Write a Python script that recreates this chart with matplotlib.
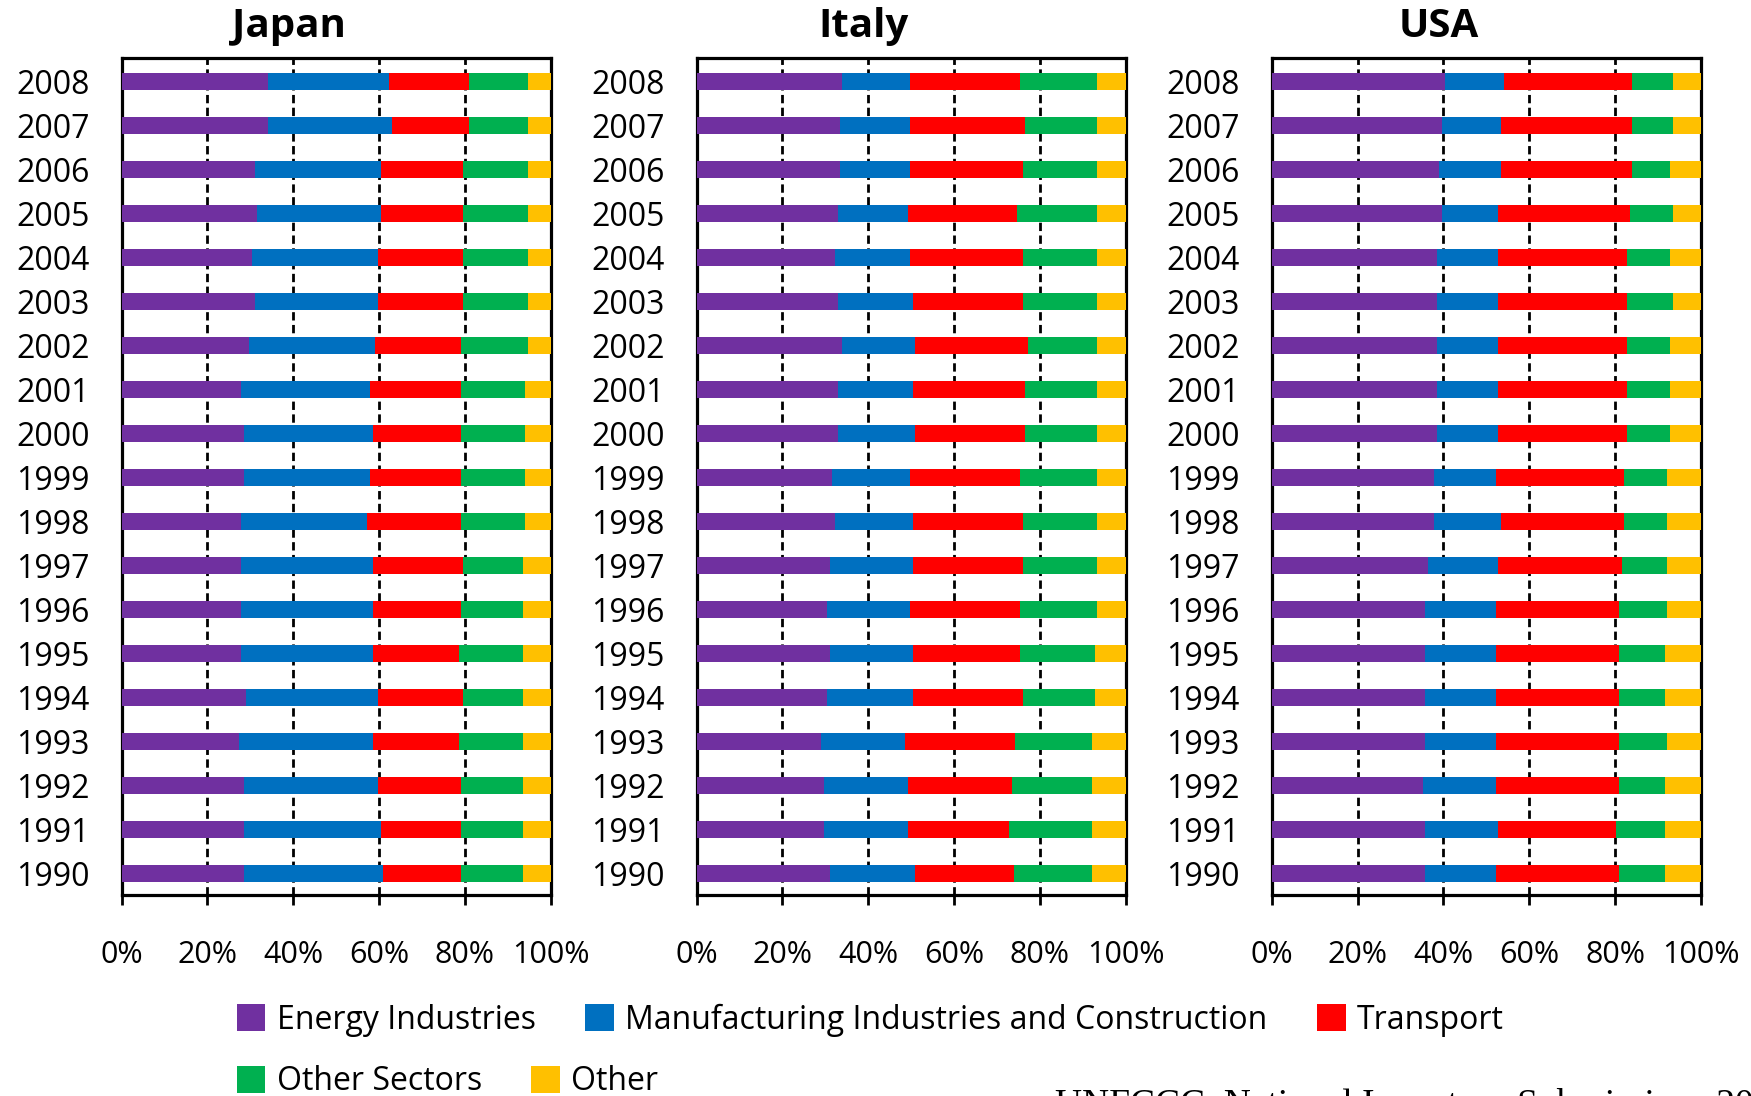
"""
CO2 emissions from fuel combustion by sector, 1990-2008
100% stacked horizontal bars for Japan, Italy and USA
"""

import numpy as np
import matplotlib
matplotlib.use('Agg')
import matplotlib.pyplot as plt
from matplotlib.patches import Patch

years = list(range(1990, 2009))
countries = ['Japan', 'Italy', 'USA']
sectors = ['Energy Industries', 'Manufacturing Industries and Construction',
           'Transport', 'Other Sectors', 'Other']
xtickLabels = ['0%', '20%', '40%', '60%', '80%', '100%']
source = 'UNFCCC, National Inventory Submissions 2010'

# Shares (%) per sector, 1990 -> 2008
japanEnergy = [28.5, 28.5, 28.5, 27.3, 29.1, 27.9, 27.9, 27.9, 27.9, 28.5,
               28.5, 27.9, 29.8, 31.0, 30.5, 31.6, 31.0, 34.2, 34.2]
japanManuf = [32.5, 31.9, 31.3, 31.2, 30.7, 30.6, 30.6, 30.6, 29.4, 29.4,
              30.0, 30.0, 29.3, 28.8, 29.3, 28.8, 29.4, 28.7, 28.0]
japanTransport = [18.1, 18.7, 19.3, 20.0, 19.8, 20.0, 20.6, 21.1, 21.8, 21.2,
                  20.6, 21.2, 20.0, 19.8, 19.8, 19.2, 19.2, 18.1, 18.8]
japanOtherSectors = [14.4, 14.4, 14.4, 15.0, 13.9, 15.0, 14.4, 13.9, 15.0, 15.0,
                     15.0, 15.0, 15.6, 15.1, 15.1, 15.1, 15.1, 13.7, 13.7]
japanOther = [6.5, 6.5, 6.5, 6.5, 6.5, 6.5, 6.5, 6.5, 5.9, 5.9,
              5.9, 5.9, 5.3, 5.3, 5.3, 5.3, 5.3, 5.3, 5.3]

italyEnergy = [31.0, 29.8, 29.8, 29.1, 30.4, 31.0, 30.4, 31.0, 32.2, 31.6,
               32.9, 32.9, 34.0, 32.9, 32.2, 32.9, 33.5, 33.5, 34.0]
italyManuf = [20.0, 19.4, 19.4, 19.4, 20.0, 19.4, 19.3, 19.4, 18.2, 18.1,
              18.1, 17.5, 17.0, 17.5, 17.5, 16.3, 16.2, 16.2, 15.7]
italyTransport = [23.0, 23.7, 24.2, 25.6, 25.6, 24.9, 25.6, 25.6, 25.6, 25.6,
                  25.6, 26.2, 26.2, 25.6, 26.3, 25.5, 26.3, 26.9, 25.6]
italyOtherSectors = [18.2, 19.3, 18.8, 18.1, 16.8, 17.5, 18.1, 17.4, 17.4, 18.1,
                     16.8, 16.8, 16.2, 17.4, 17.4, 18.7, 17.4, 16.8, 18.1]
italyOther = [7.8, 7.8, 7.8, 7.8, 7.2, 7.2, 6.6, 6.6, 6.6, 6.6,
              6.6, 6.6, 6.6, 6.6, 6.6, 6.6, 6.6, 6.6, 6.6]

usaEnergy = [35.8, 35.8, 35.3, 35.8, 35.8, 35.8, 35.8, 36.5, 37.7, 37.7,
             38.4, 38.4, 38.4, 38.4, 38.4, 39.7, 39.0, 39.7, 40.3]
usaManuf = [16.4, 17.0, 16.9, 16.4, 16.4, 16.4, 16.4, 16.3, 15.7, 14.5,
            14.4, 14.4, 14.4, 14.4, 14.4, 13.1, 14.4, 13.7, 13.7]
usaTransport = [28.6, 27.4, 28.6, 28.6, 28.6, 28.6, 28.6, 28.7, 28.7, 29.9,
                29.9, 29.9, 29.9, 29.9, 29.9, 30.6, 30.6, 30.6, 30.0]
usaOtherSectors = [10.7, 11.3, 10.7, 11.3, 10.7, 10.7, 11.3, 10.6, 10.0, 10.0,
                   10.0, 10.0, 10.0, 10.7, 10.0, 10.0, 8.7, 9.4, 9.4]
usaOther = [8.5, 8.5, 8.5, 7.9, 8.5, 8.5, 7.9, 7.9, 7.9, 7.9,
            7.3, 7.3, 7.3, 6.6, 7.3, 6.6, 7.3, 6.6, 6.6]

colors = ['#7030A0', '#0070C0', '#FF0000', '#00B050', '#FFC000']


def plot_country(ax, name, shares):
    """Draws one 100% stacked horizontal bar panel."""
    data = np.array(shares, dtype=float)
    data = data / data.sum(axis=0) * 100  # normalise like a 100% stacked chart
    left = np.zeros(len(years))
    for i in range(len(sectors)):
        ax.barh(years, data[i], left=left, height=0.38, color=colors[i],
                edgecolor='none', zorder=3)
        left += data[i]

    ax.set_xlim(0, 100)
    ax.set_ylim(1989.52, 2008.53)
    ax.set_xticks(np.arange(0, 101, 20))
    ax.set_xticklabels(xtickLabels)
    ax.set_yticks(years)
    ax.set_yticklabels([str(y) for y in years])

    # Dashed vertical gridlines behind the bars
    ax.grid(axis='x', color='black', linestyle=(0, (3, 1.6)), linewidth=2, zorder=0)
    ax.grid(axis='y', visible=False)
    ax.set_axisbelow(True)

    for s in ax.spines.values():
        s.set_linewidth(2.3)
        s.set_color('black')
    ax.tick_params(axis='x', direction='out', length=7, width=2, pad=26, labelsize=22)
    ax.tick_params(axis='y', length=0, pad=23, labelsize=23)

    ax.text(0.39, 1.0253, name, transform=ax.transAxes, ha='center', va='baseline',
            fontsize=29, fontweight='bold')


def main():
    plt.rcParams['font.family'] = ['Open Sans', 'DejaVu Sans']

    fig = plt.figure(figsize=(17.51, 10.96), dpi=100)

    allShares = [
        [japanEnergy, japanManuf, japanTransport, japanOtherSectors, japanOther],
        [italyEnergy, italyManuf, italyTransport, italyOtherSectors, italyOther],
        [usaEnergy, usaManuf, usaTransport, usaOtherSectors, usaOther],
    ]
    lefts = [121.5, 696.5, 1271.7]
    W, H = 1751.0, 1096.0
    for name, shares, x0 in zip(countries, allShares, lefts):
        ax = fig.add_axes([x0 / W, 1 - 894.5 / H, 429.3 / W, (894.5 - 58.3) / H])
        plot_country(ax, name, shares)

    # Legend: two rows of square patches
    handles = [Patch(facecolor=c, edgecolor='none') for c in colors]
    legendKw = dict(frameon=False, fontsize=23, handlelength=0.9, handleheight=0.9,
                    handletextpad=0.35, columnspacing=1.55, borderpad=0,
                    borderaxespad=0, loc='center left')
    fig.legend(handles[:3], sectors[:3], ncol=3,
               bbox_to_anchor=(236.7 / W, 1 - 1020 / H), **legendKw)
    fig.legend(handles[3:], sectors[3:], ncol=2,
               bbox_to_anchor=(236.7 / W, 1 - 1082 / H), **legendKw)

    # Source note, cut off by the figure edge as in the original
    fig.text(1055 / W, 1 - 1088 / H, source, ha='left', va='top',
             fontsize=27, family='Liberation Serif')

    fig.savefig('out.png', dpi=100)


if __name__ == '__main__':
    main()
